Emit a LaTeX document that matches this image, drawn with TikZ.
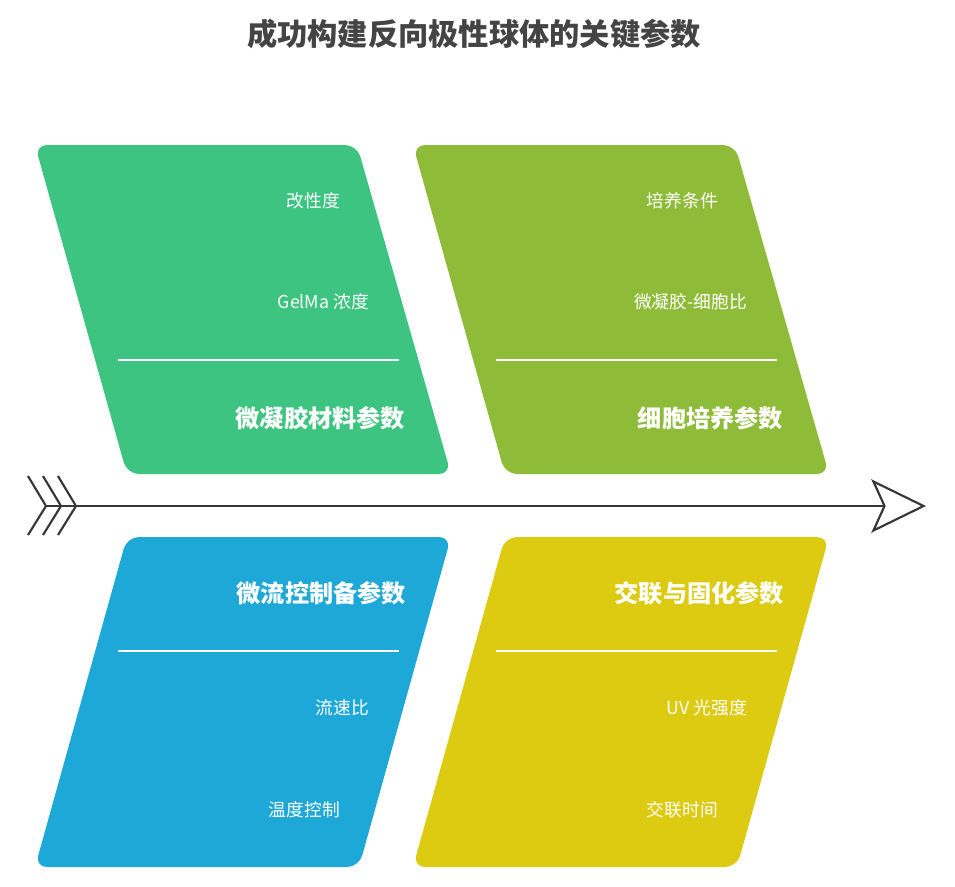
\documentclass[tikz,border=0pt]{standalone}
\usepackage{fontspec}
\setmainfont{Noto Sans CJK SC}
\usepackage{tikz}
\usetikzlibrary{arrows.meta}
\definecolor{cardgreen}{HTML}{3DC480}
\definecolor{cardolive}{HTML}{8FBC38}
\definecolor{cardblue}{HTML}{1EA8D8}
\definecolor{cardyellow}{HTML}{DDCB12}
\definecolor{titlegray}{HTML}{444444}
\definecolor{spinegray}{HTML}{363636}
\tikzset{card/.style={rounded corners=9pt},
  divider/.style={draw=white,line width=1.6pt},
  cardhead/.style={anchor=east,inner sep=0pt,text=white,font=\bfseries\fontsize{18.1pt}{21pt}\selectfont},
  carditem/.style={anchor=east,inner sep=0pt,text=white,font=\fontsize{13.3pt}{16pt}\selectfont},
  spine/.style={draw=spinegray,line width=1.6pt}}

\begin{document}
\begin{tikzpicture}[x=0.75pt,y=-0.75pt]
            \useasboundingbox (0,0) rectangle (955,886);
            \node[inner sep=0pt,text=titlegray,font=\bfseries\fontsize{22.7pt}{27pt}\selectfont] (title) at (474,34) {成功构建反向极性球体的关键参数};
            % upper cards
            \foreach \n/\dx/\col/\head/\itema/\itemb in {mat/0/cardgreen/微凝胶材料参数/改性度/GelMa 浓度,cell/378/cardolive/细胞培养参数/培养条件/微凝胶-细胞比}
            {
            \begin{scope}[xshift=\dx*0.75pt]
                \fill[card,fill=\col] (35,145) -- (357,145) -- (451,474) -- (127,474) -- cycle;
                \draw[divider] (118,360) -- (399,360);
                \node[cardhead] (\n-head) at (405,418) {\head};
                \node[carditem] (\n-a) at (340,201) {\itema};
                \node[carditem] (\n-b) at (369,302) {\itemb};
            \end{scope}
            }
            % lower cards
            \foreach \n/\dx/\col/\head/\itema/\itemb in {flow/0/cardblue/微流控制备参数/流速比/温度控制,cross/378/cardyellow/交联与固化参数/UV 光强度/交联时间}
            {
            \begin{scope}[xshift=\dx*0.75pt]
                \fill[card,fill=\col] (127,537) -- (451,537) -- (359,867) -- (35,867) -- cycle;
                \draw[divider] (118,651) -- (399,651);
                \node[cardhead] (\n-head) at (406,593) {\head};
                \node[carditem] (\n-a) at (369,708) {\itema};
                \node[carditem] (\n-b) at (340,810) {\itemb};
            \end{scope}
            }
            % spine with feathers
            \coordinate (tail) at (46,506);
            \coordinate (head) at (926,506);
            \draw[spine,-{Stealth[open,length=41pt,width=40pt,inset=9pt]}] (tail) -- (head);
            \foreach \k in {0,15,30}
            {
                \draw[spine] (28+\k,476) -- (46+\k,506) -- (28+\k,535);
            }
        \end{tikzpicture}
\end{document}
